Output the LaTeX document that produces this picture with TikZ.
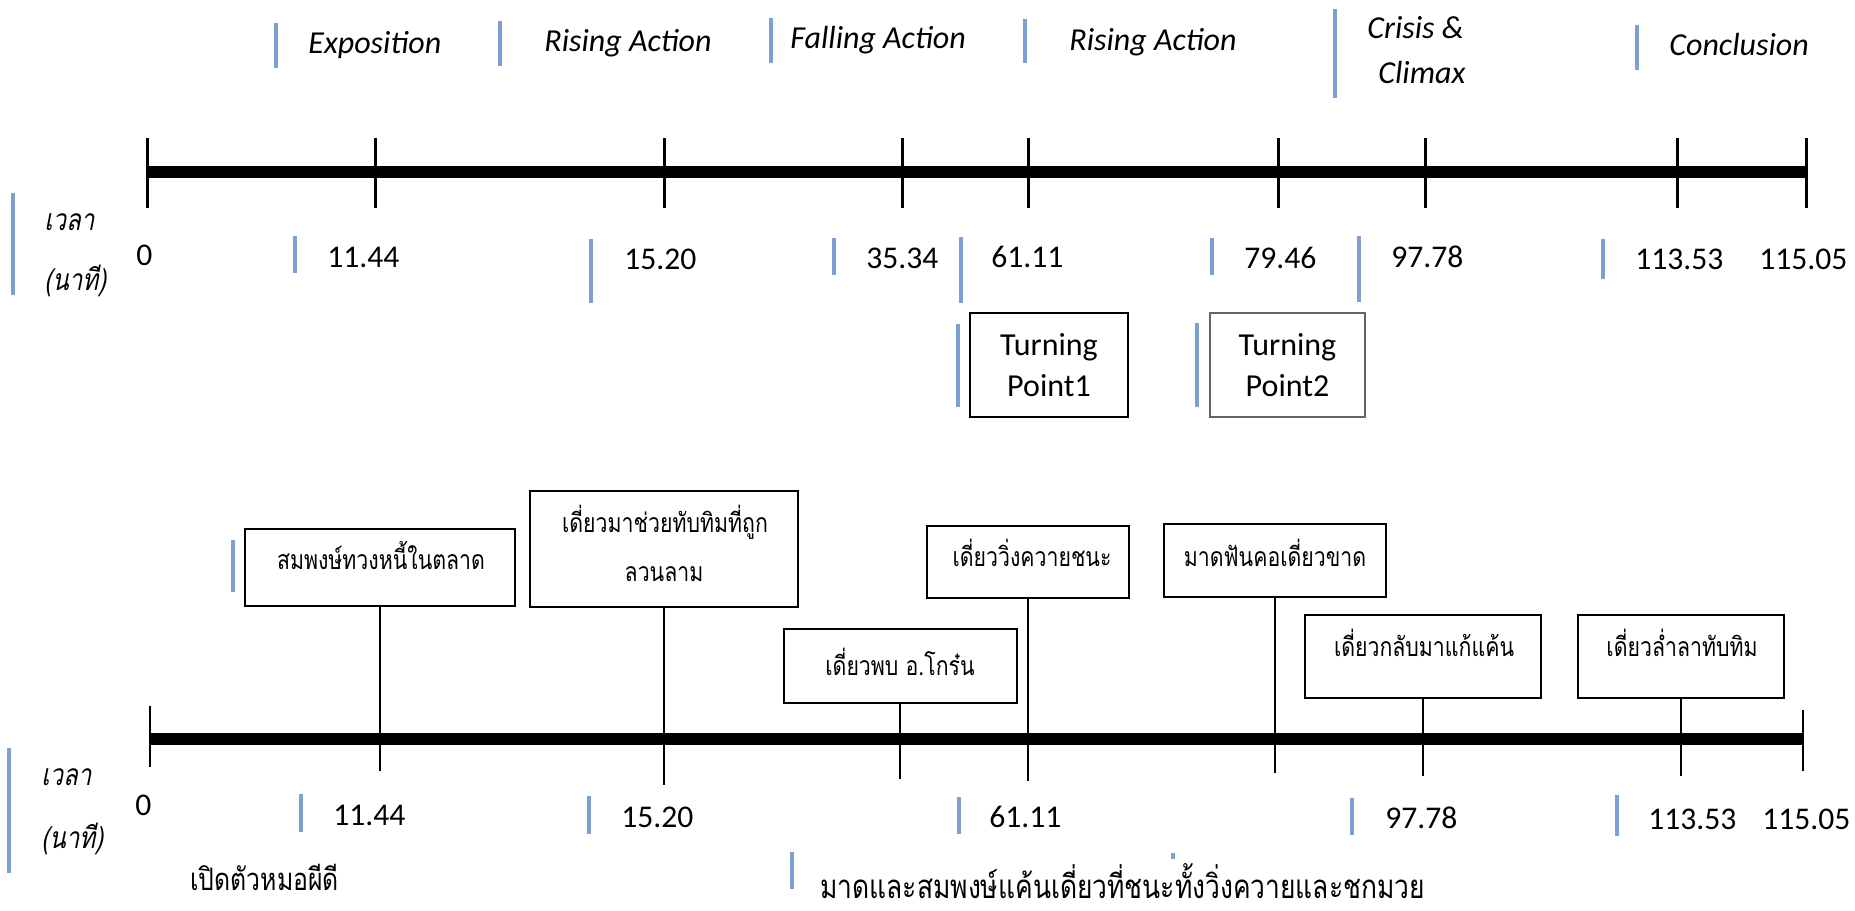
\documentclass[tikz,border=0pt]{standalone}
\usepackage{fontspec}
\setmainfont{Carlito}
\newfontfamily\thaifont[Script=Thai,FakeStretch=0.8]{Loma}
\newfontfamily\thaislant[Script=Thai,FakeStretch=0.8,FakeSlant=0.2]{Loma}
\definecolor{barblue}{RGB}{124,160,210}

\begin{document}
\begin{tikzpicture}[x=0.5pt,y=-0.5pt,
  axisline/.style={line width=6pt},
  bigtick/.style={line width=1.5pt},
  smalltick/.style={line width=1pt},
  marker/.style={draw=barblue,line width=2pt},
  stem/.style={line width=0.8pt},
  phase/.style={font=\fontsize{16}{18}\selectfont\itshape,anchor=base west,inner sep=0pt},
  num/.style={font=\fontsize{15.8}{18}\selectfont,anchor=base west,inner sep=0pt},
  timelbl/.style={font=\fontsize{15}{18}\selectfont\thaislant,anchor=base west,inner sep=0pt},
  evbox/.style={draw,line width=1pt,rectangle,inner sep=0pt},
  evtext/.style={font=\fontsize{13.3}{16}\selectfont\thaifont,anchor=base,inner sep=0pt},
  caption/.style={font=\fontsize{15.5}{18}\selectfont\thaifont,anchor=base west,inner sep=0pt},
  tpbox/.style={draw,line width=1pt,rectangle,inner sep=0pt,align=center,
    font=\fontsize{16}{20.5}\selectfont},
]
\useasboundingbox (0,0) rectangle (1855,910);

% ---------- upper timeline: story structure ----------
\foreach \bx/\ya/\yb in {276/23/68, 500/21/66, 771/18/63, 1025/19/63, 1335/9/98, 1637/25/70}
  \draw[marker] (\bx,\ya) -- (\bx,\yb);
\node[phase] (ph1) at (308,53) {Exposition};
\node[phase] (ph2) at (544,51) {Rising Action};
\node[phase] (ph3) at (790,48) {Falling Action};
\node[phase] (ph4) at (1069,50) {Rising Action};
\node[phase] (ph5a) at (1367,39) {Crisis \&};
\node[phase] (ph5b) at (1378,83) {Climax};
\node[phase] (ph6) at (1669,55) {Conclusion};

\coordinate (ua) at (147,172);
\coordinate (ub) at (1806,172);
\draw[axisline] (ua) -- (ub);
\foreach \tx in {147,375,664,902,1028,1278,1425,1677,1806}
  \draw[bigtick] (\tx,138) -- (\tx,208);

\draw[marker] (13,193) -- (13,295);
\node[timelbl] (ut1) at (44,230) {เวลา};
\node[timelbl] (ut2) at (44,290) {(นาที)};

\foreach \bx/\ya/\yb in {295/236/273, 591/239/303, 834/238/275, 960.6/237/303,
    1212/238/275, 1358.6/236/302, 1603/239/279}
  \draw[marker] (\bx,\ya) -- (\bx,\yb);
\node[num] (un0) at (136,265) {0};
\node[num] (un1) at (327,267) {11.44};
\node[num] (un2) at (624,269) {15.20};
\node[num] (un3) at (866,268) {35.34};
\node[num] (un4) at (991,267) {61.11};
\node[num] (un5) at (1244,268) {79.46};
\node[num] (un6) at (1391,267) {97.78};
\node[num] (un7) at (1635,269) {113.53};
\node[num] (un8) at (1759,269) {115.05};

\draw[marker] (957.6,324) -- (957.6,407);
\draw[marker] (1196.6,323) -- (1196.6,407);
\node[tpbox,minimum width=79.25pt,minimum height=52pt] (tp1) at (1049,365) {Turning\\Point1};
\node[tpbox,draw=black!60,line width=0.6pt,minimum width=77.5pt,minimum height=52pt] (tp2) at (1287.5,365) {Turning\\Point2};

% ---------- lower timeline: events ----------
\node[evbox,minimum width=135pt,minimum height=38.5pt] (bxA) at (380,567.5) {};
\node[evtext] (txA) at (381,569) {สมพงษ์ทวงหนี้ในตลาด};
\draw[marker] (232.5,540) -- (232.5,592);

\node[evbox,minimum width=134pt,minimum height=58pt] (bxB) at (664,549) {};
\node[evtext] (txB1) at (665,532) {เดี่ยวมาช่วยทับทิมที่ถูก};
\node[evtext] (txB2) at (664,581) {ลวนลาม};

\node[evbox,minimum width=116.5pt,minimum height=37pt] (bxC) at (900,666) {};
\node[evtext] (txC) at (900,675) {เดี่ยวพบ อ.โกร๋น};

\node[evbox,minimum width=101pt,minimum height=36pt] (bxD) at (1028,562) {};
\node[evtext] (txD) at (1032,566) {เดี่ยววิ่งควายชนะ};

\node[evbox,minimum width=111pt,minimum height=36.5pt] (bxE) at (1275,560.5) {};
\node[evtext] (txE) at (1275,566) {มาดฟันคอเดี่ยวขาด};

\node[evbox,minimum width=118pt,minimum height=41.5pt] (bxF) at (1423,656.5) {};
\node[evtext] (txF) at (1424,656) {เดี่ยวกลับมาแก้แค้น};

\node[evbox,minimum width=103.2pt,minimum height=41.5pt] (bxG) at (1681,656.5) {};
\node[evtext] (txG) at (1682,656) {เดี่ยวล่ำลาทับทิม};

\coordinate (la) at (150,738.5);
\coordinate (lb) at (1803,738.5);
\draw[axisline] (la) -- (lb);
\draw[smalltick] (150,706) -- (150,767);
\draw[smalltick] (1803,710) -- (1803,771);

\coordinate (endA) at (380,771);
\coordinate (endB) at (664,785);
\coordinate (endC) at (900,779);
\coordinate (endD) at (1028,781);
\coordinate (endE) at (1275,773);
\coordinate (endF) at (1423,776);
\coordinate (endG) at (1681,776);
\foreach \b/\e in {bxA/endA, bxB/endB, bxC/endC, bxD/endD, bxE/endE, bxF/endF, bxG/endG}
  \draw[stem] (\b.south) -- (\e);

\draw[marker] (9,748) -- (9,873);
\node[timelbl] (lt1) at (41,785) {เวลา};
\node[timelbl] (lt2) at (41,848) {(นาที)};

\foreach \bx/\ya/\yb in {300.7/794/832, 589/796/834, 959/797/834, 1352/798/835, 1616.6/795/836}
  \draw[marker] (\bx,\ya) -- (\bx,\yb);
\node[num] (ln0) at (135,815) {0};
\node[num] (ln1) at (333,825) {11.44};
\node[num] (ln2) at (621,827) {15.20};
\node[num] (ln3) at (989,827) {61.11};
\node[num] (ln4) at (1385,828) {97.78};
\node[num] (ln5) at (1648,829) {113.53};
\node[num] (ln6) at (1762,829) {115.05};

\node[caption] (cap1) at (190,890) {เปิดตัวหมอผีดี};
\draw[marker] (792,852) -- (792,889);
\draw[marker] (1173,853) -- (1173,859);
\node[caption,font=\fontsize{16.5}{18}\selectfont\thaifont] (cap2) at (820,898) {มาดและสมพงษ์แค้นเดี่ยวที่ชนะทั้งวิ่งควายและชกมวย};
\end{tikzpicture}
\end{document}
